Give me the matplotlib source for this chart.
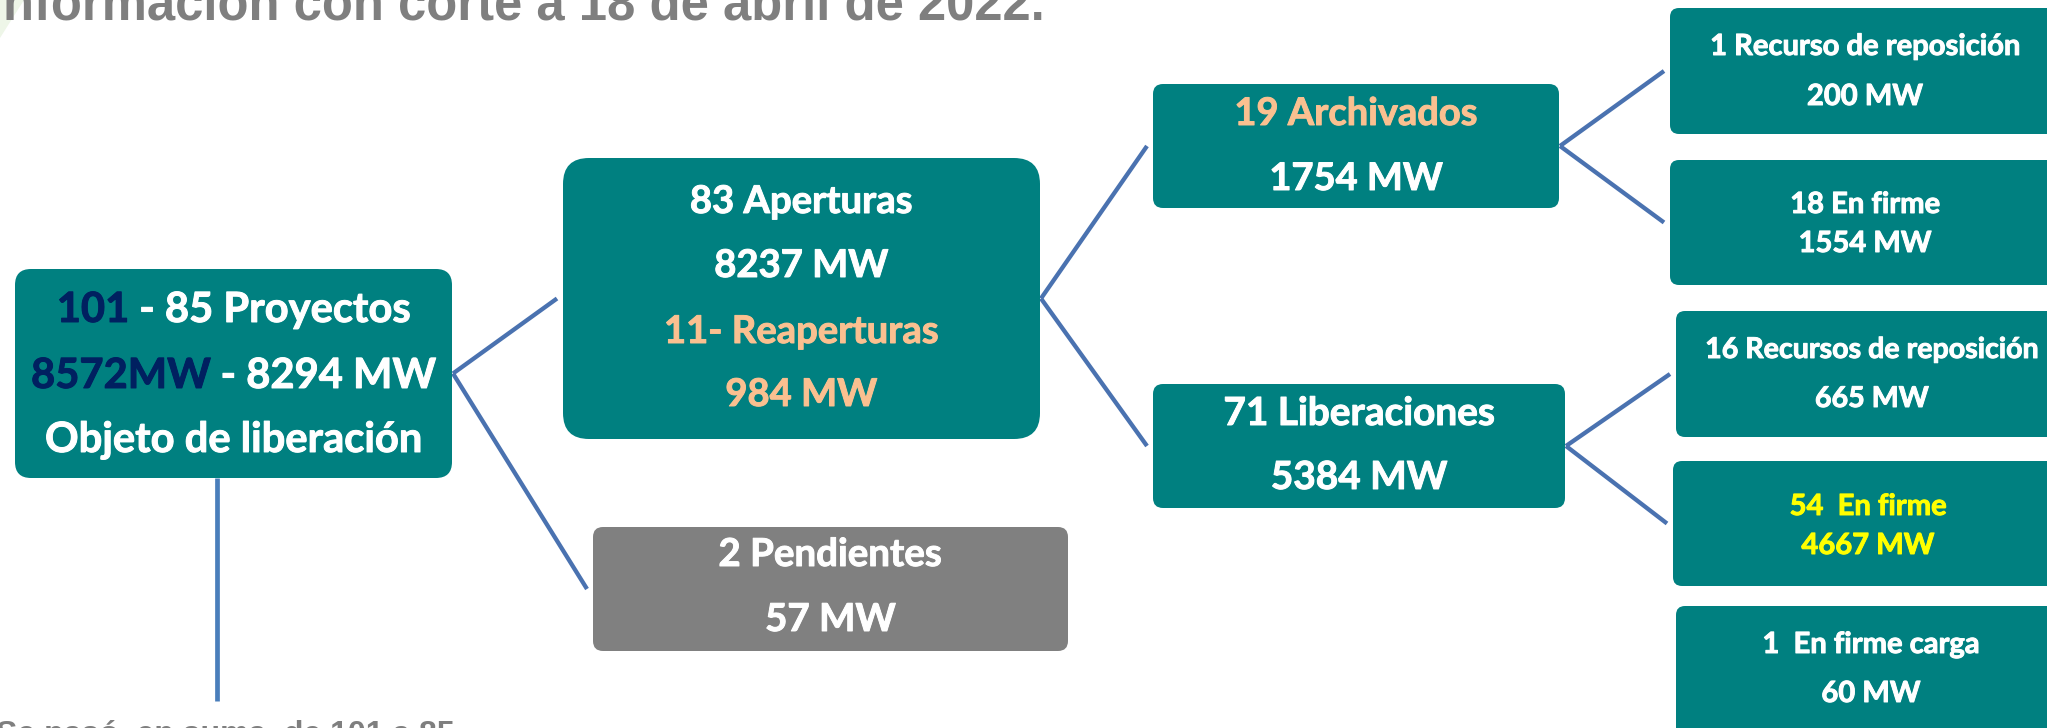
import matplotlib
matplotlib.use("Agg")
import matplotlib.pyplot as plt
import matplotlib.patheffects as pe
from matplotlib.patches import FancyBboxPatch, Polygon

# ---------------- data ----------------
TEAL = "#008080"
GRAY_BOX = "#808080"
WHITE = "#FFFFFF"
NAVY = "#002060"
ORANGE = "#FAC090"
YELLOW = "#FFFF00"

title_text = "Información con corte a 18 de abril de 2022."
note_text = "Se pasó, en suma, de 101 a 85"

root_lines = [[("101", NAVY), (" - 85 Proyectos", WHITE)],
              [("8572MW", NAVY), (" - 8294 MW", WHITE)],
              [("Objeto de liberación", WHITE)]]
aperturas_lines = [[("83 Aperturas", WHITE)], [("8237 MW", WHITE)],
                   [("11- Reaperturas", ORANGE)], [("984 MW", ORANGE)]]
pendientes_lines = [[("2 Pendientes", WHITE)], [("57 MW", WHITE)]]
archivados_lines = [[("19 Archivados", ORANGE)], [("1754 MW", WHITE)]]
liberaciones_lines = [[("71 Liberaciones", WHITE)], [("5384 MW", WHITE)]]
rec1_lines = [[("1 Recurso de reposición", WHITE)], [("200 MW", WHITE)]]
firme18_lines = [[("18 En firme", WHITE)], [("1554 MW", WHITE)]]
rec16_lines = [[("16 Recursos de reposición", WHITE)], [("665 MW", WHITE)]]
firme54_lines = [[("54  En firme", YELLOW)], [("4667 MW", YELLOW)]]
carga1_lines = [[("1  En firme carga", WHITE)], [("60 MW", WHITE)]]

# ---------------- layout (pixels) ----------------
W, H = 2047, 728
# name: (left, top, right, bottom, corner, facecolor, fontsize, baselines, lines)
boxes = {
    "root": (15, 269, 452, 478, 16, TEAL, 30.0, [322, 388, 452], root_lines),
    "aperturas": (563, 158, 1040, 439, 26, TEAL, 27.5, [213, 277, 343, 406], aperturas_lines),
    "pendientes": (593, 527, 1068, 651, 10, GRAY_BOX, 27.7, [566, 631], pendientes_lines),
    "archivados": (1153, 84, 1559, 208, 10, TEAL, 27.4, [125, 190], archivados_lines),
    "liberaciones": (1153, 384, 1565, 508, 10, TEAL, 27.9, [425, 489], liberaciones_lines),
    "rec1": (1670, 8, 2060, 134, 9, TEAL, 21.0, [55, 105], rec1_lines),
    "firme18": (1670, 160, 2060, 285, 9, TEAL, 21.0, [213, 252], firme18_lines),
    "rec16": (1676, 311, 2068, 437, 9, TEAL, 20.6, [358, 407], rec16_lines),
    "firme54": (1673, 461, 2063, 586, 9, TEAL, 21.0, [515, 554], firme54_lines),
    "carga1": (1676, 606, 2066, 750, 9, TEAL, 21.0, [653, 702], carga1_lines),
}
edges = [("root", "aperturas"), ("root", "pendientes"),
         ("aperturas", "archivados"), ("aperturas", "liberaciones"),
         ("archivados", "rec1"), ("archivados", "firme18"),
         ("liberaciones", "rec16"), ("liberaciones", "firme54")]

LINE_COLOR = "#4A72B0"

fig = plt.figure(figsize=(W / 100, H / 100), dpi=100)
ax = fig.add_axes([0, 0, 1, 1])
ax.set_xlim(0, W)
ax.set_ylim(H, 0)
ax.axis("off")
renderer = fig.canvas.get_renderer()

# faint logo remnant in the corner
ax.add_patch(Polygon([(0, 0), (24, 0), (0, 38)], closed=True,
                     facecolor="#EEF6E8", edgecolor="none", zorder=0))

# connectors
for p, c in edges:
    pl, pt, pr, pb = boxes[p][:4]
    cl, ct, cr, cb = boxes[c][:4]
    ax.plot([pr + 1, cl - 6], [(pt + pb) / 2, (ct + cb) / 2],
            color=LINE_COLOR, lw=3.1, solid_capstyle="butt", zorder=1)

# vertical stem under root
rl, rt, rr, rb = boxes["root"][:4]
ax.plot([217, 217], [rb, 701], color="#4A7EBB", lw=3.4,
        solid_capstyle="butt", zorder=1)

FONT = "Lato"


def draw_line(cx, yb, segs, size):
    full = "".join(s for s, _ in segs)
    tmp = ax.text(0, 0, full, fontsize=size, family=FONT, weight="bold")
    total = tmp.get_window_extent(renderer).width
    tmp.remove()
    x = cx - total / 2
    for s, col in segs:
        t = ax.text(x, yb, s, color=col, fontsize=size, family=FONT,
                    weight="bold", ha="left", va="baseline", zorder=3,
                    path_effects=[pe.withStroke(linewidth=0.7, foreground=col)])
        x += t.get_window_extent(renderer).width


for name, (l, t, r, b, rad, fc, fs, baselines, lines) in boxes.items():
    ax.add_patch(FancyBboxPatch((l, t), r - l, b - t,
                                boxstyle=f"round,pad=0,rounding_size={rad}",
                                facecolor=fc, edgecolor="none", zorder=2))
    cx = (l + r) / 2
    for yb, segs in zip(baselines, lines):
        draw_line(cx, yb, segs, fs)

# title (cut off at the top) and note (cut off at the bottom)
ax.text(1045, 20, title_text, ha="right", va="baseline", fontsize=36.5,
        family="Liberation Sans", weight="bold", color="#7F7F7F", zorder=3)
ax.text(-4, 743, note_text, ha="left", va="baseline", fontsize=23,
        family="Liberation Sans", weight="bold", color="#7F7F7F", zorder=3)

fig.savefig("out.png", dpi=100)
